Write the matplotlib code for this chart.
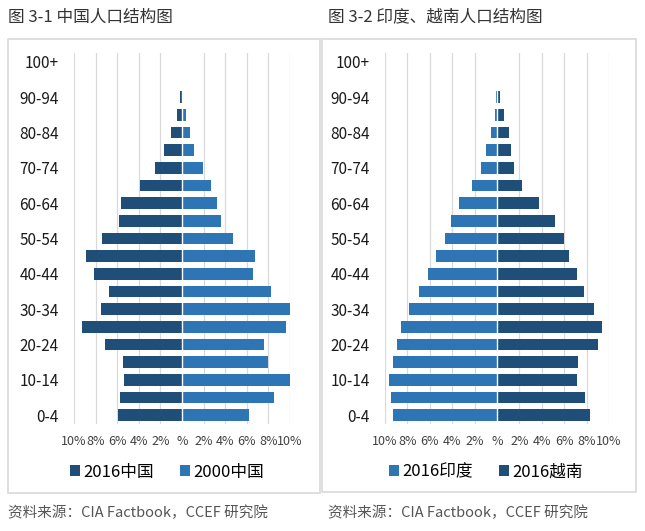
import matplotlib.pyplot as plt
import numpy as np
from matplotlib.patches import Rectangle

plt.rcParams["font.family"] = ["Noto Sans CJK SC", "DejaVu Sans"]

age_groups = ["0-4", "5-9", "10-14", "15-19", "20-24", "25-29", "30-34", "35-39",
              "40-44", "45-49", "50-54", "55-59", "60-64", "65-69", "70-74", "75-79",
              "80-84", "85-89", "90-94", "95-99", "100+"]

# percent of population, left side series and right side series
china_2016 = [5.96, 5.71, 5.34, 5.43, 7.10, 9.23, 7.53, 6.73, 8.12, 8.92, 7.41,
              5.80, 5.62, 3.92, 2.53, 1.64, 1.05, 0.46, 0.15, 0.02, 0.0]
china_2000 = [6.20, 8.52, 10.19, 7.99, 7.62, 9.60, 10.00, 8.21, 6.60, 6.73, 4.69,
              3.61, 3.21, 2.72, 1.98, 1.14, 0.71, 0.34, 0.08, 0.01, 0.0]
india_2016 = [9.27, 9.48, 9.60, 9.27, 8.97, 8.59, 7.88, 6.95, 6.15, 5.47, 4.67,
              4.07, 3.39, 2.26, 1.46, 0.95, 0.56, 0.15, 0.06, 0.04, 0.0]
vietnam_2016 = [8.26, 7.82, 7.13, 7.22, 9.03, 9.36, 8.62, 7.73, 7.13, 6.45, 5.94,
                5.14, 3.74, 2.23, 1.55, 1.25, 1.04, 0.62, 0.24, 0.05, 0.0]

x_ticks = [-10, -8, -6, -4, -2, 0, 2, 4, 6, 8, 10]
x_tick_labels = ["10%", "8%", "6%", "4%", "2%", "%", "2%", "4%", "6%", "8%", "10%"]

DARK = "#1f4e79"
LIGHT = "#2e75b6"
GRID = "#d9d9d9"
W, H = 645, 531


def fig_rect(x0, y0, x1, y1):
    # pixel box (top-left origin) -> figure fraction rect
    return [x0 / W, 1 - y1 / H, (x1 - x0) / W, (y1 - y0) / H]


def pyramid(ax, left_vals, right_vals, left_color, right_color, labels):
    y = np.arange(len(age_groups))
    ax.barh(y, -np.array(left_vals), height=0.66, color=left_color, label=labels[0], zorder=2)
    ax.barh(y, right_vals, height=0.66, color=right_color, label=labels[1], zorder=2)
    ax.axvline(0, color="white", lw=1.0, zorder=3)
    ax.set_xlim(-10, 10)
    ax.set_ylim(-0.5, len(age_groups) - 0.5)
    ax.set_xticks(x_ticks)
    ax.set_xticklabels(x_tick_labels, fontsize=9, color="#404040")
    ax.set_yticks(y[::2])
    ax.set_yticklabels(age_groups[::2], fontsize=11, color="#1a1a1a")
    for t in x_ticks:
        if t != 0:
            ax.axvline(t, color=GRID, lw=0.9, zorder=0)
    ax.tick_params(axis="both", length=0)
    ax.tick_params(axis="y", pad=11)
    ax.tick_params(axis="x", pad=8)
    for side in ax.spines.values():
        side.set_visible(False)


fig = plt.figure(figsize=(6.45, 5.31), dpi=100)

# panel borders
fig.patches.append(Rectangle((8 / W, 1 - 493 / H), 312 / W, 454 / H, transform=fig.transFigure,
                             fill=False, edgecolor=GRID, lw=1.2))
fig.patches.append(Rectangle((322 / W, 1 - 492 / H), 314 / W, 453 / H, transform=fig.transFigure,
                             fill=False, edgecolor=GRID, lw=1.2))

ax1 = fig.add_axes(fig_rect(74, 53, 290, 424))
pyramid(ax1, china_2016, china_2000, DARK, LIGHT, ["2016中国", "2000中国"])
ax1.legend(loc="center", bbox_to_anchor=(167 / W, 1 - 472 / H), bbox_transform=fig.transFigure,
           ncol=2, frameon=False, fontsize=12, handlelength=0.6, handleheight=0.6,
           handletextpad=0.2, columnspacing=1.6)

ax2 = fig.add_axes(fig_rect(385, 53, 609, 424))
pyramid(ax2, india_2016, vietnam_2016, LIGHT, DARK, ["2016印度", "2016越南"])
ax2.legend(loc="center", bbox_to_anchor=(486 / W, 1 - 472 / H), bbox_transform=fig.transFigure,
           ncol=2, frameon=False, fontsize=12, handlelength=0.6, handleheight=0.6,
           handletextpad=0.2, columnspacing=1.6)

fig.text(8 / W, 1 - 17 / H, "图 3-1 中国人口结构图", fontsize=12, color="#333333", va="center")
fig.text(328 / W, 1 - 17 / H, "图 3-2 印度、越南人口结构图", fontsize=12, color="#333333", va="center")
fig.text(8 / W, 1 - 513 / H, "资料来源：CIA Factbook，CCEF 研究院", fontsize=10.5, color="#555555", va="center")
fig.text(328 / W, 1 - 513 / H, "资料来源：CIA Factbook，CCEF 研究院", fontsize=10.5, color="#555555", va="center")

fig.savefig("out.png", dpi=100, facecolor="white")
